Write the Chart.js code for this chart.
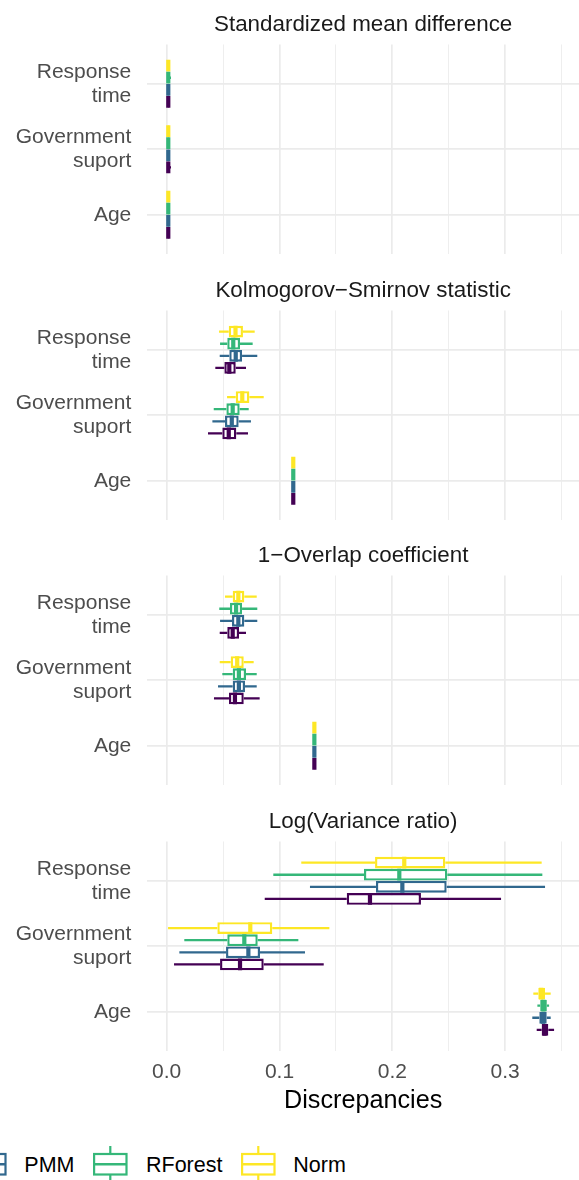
<!DOCTYPE html>
<html><head><meta charset="utf-8">
<script src="https://cdn.jsdelivr.net/npm/chart.js@4/dist/chart.umd.min.js"></script>
<style>
html,body{margin:0;padding:0;background:#fff;}
#wrap{position:relative;width:579px;height:1180px;overflow:hidden;background:#fff;font-family:'Liberation Sans',Arial,sans-serif;}
#wrap canvas{position:absolute;left:0;}
.key{position:absolute;top:1146px;width:36px;height:34px;}
.lab{position:absolute;top:1148px;height:34px;line-height:34px;font-size:21.5px;color:#000;white-space:nowrap;}
</style></head><body><div id="wrap"></div>
<script>
// ---------- data ----------
const facetTitles = ["Standardized mean difference", "Kolmogorov\u2212Smirnov statistic", "1\u2212Overlap coefficient", "Log(Variance ratio)"];
const variableLabels = [["Response", "time"], ["Government", "suport"], "Age"];
const methods = ["CART", "PMM", "RForest", "Norm"];
const methodColors = ["#440154", "#31688E", "#35B779", "#FDE725"];
const xTicks = [0, 0.05, 0.1, 0.15, 0.2, 0.25, 0.3, 0.35];
const xAxisTitle = "Discrepancies";

// per method (CART, PMM, RForest, Norm) -> per variable (Response time, Government suport, Age) -> [min, q1, median, q3, max]
const smdStats = [
  [[0.0004, 0.0009, 0.0014, 0.0019, 0.0028], [0.0004, 0.0009, 0.0014, 0.0019, 0.0038], [0.0004, 0.0009, 0.0014, 0.0019, 0.0026]],
  [[0.0004, 0.0009, 0.0014, 0.0019, 0.0027], [0.0004, 0.0009, 0.0014, 0.0019, 0.0027], [0.0004, 0.0009, 0.0014, 0.0019, 0.0026]],
  [[0.0004, 0.0009, 0.0014, 0.0019, 0.0038], [0.0004, 0.0009, 0.0014, 0.0019, 0.0027], [0.0004, 0.0009, 0.0014, 0.0019, 0.0026]],
  [[0.0004, 0.0009, 0.0014, 0.0019, 0.0027], [0.0004, 0.0009, 0.0014, 0.0019, 0.0027], [0.0004, 0.0009, 0.0014, 0.0019, 0.0026]]
];
const ksStats = [
  [[0.0431, 0.0511, 0.0555, 0.0612, 0.0703], [0.0366, 0.0493, 0.0550, 0.0617, 0.0721], [0.1118, 0.1120, 0.1122, 0.1124, 0.1126]],
  [[0.0470, 0.0555, 0.0612, 0.0668, 0.0803], [0.0405, 0.0517, 0.0577, 0.0638, 0.0747], [0.1118, 0.1120, 0.1122, 0.1124, 0.1126]],
  [[0.0473, 0.0537, 0.0590, 0.0650, 0.0762], [0.0417, 0.0529, 0.0585, 0.0647, 0.0727], [0.1118, 0.1120, 0.1122, 0.1124, 0.1126]],
  [[0.0464, 0.0550, 0.0610, 0.0676, 0.0780], [0.0535, 0.0612, 0.0670, 0.0733, 0.0860], [0.1118, 0.1120, 0.1122, 0.1124, 0.1126]]
];
const overlapStats = [
  [[0.0470, 0.0537, 0.0585, 0.0641, 0.0703], [0.0419, 0.0552, 0.0605, 0.0683, 0.0824], [0.1305, 0.1307, 0.1309, 0.1311, 0.1313]],
  [[0.0473, 0.0579, 0.0635, 0.0688, 0.0803], [0.0455, 0.0585, 0.0640, 0.0694, 0.0798], [0.1305, 0.1307, 0.1309, 0.1311, 0.1313]],
  [[0.0466, 0.0561, 0.0615, 0.0668, 0.0803], [0.0493, 0.0585, 0.0640, 0.0703, 0.0798], [0.1305, 0.1307, 0.1309, 0.1311, 0.1313]],
  [[0.0517, 0.0585, 0.0635, 0.0688, 0.0798], [0.0470, 0.0567, 0.0625, 0.0683, 0.0771], [0.1305, 0.1307, 0.1309, 0.1311, 0.1313]]
];
const logVarStats = [
  [[0.0869, 0.1596, 0.1802, 0.2254, 0.2964], [0.0065, 0.0473, 0.0650, 0.0860, 0.1392], [0.3280, 0.3324, 0.3350, 0.3383, 0.3434]],
  [[0.1270, 0.1855, 0.2089, 0.2482, 0.3354], [0.0112, 0.0526, 0.0724, 0.0827, 0.1226], [0.3241, 0.3303, 0.3335, 0.3369, 0.3404]],
  [[0.0945, 0.1749, 0.2062, 0.2488, 0.3330], [0.0156, 0.0537, 0.0688, 0.0807, 0.1167], [0.3286, 0.3311, 0.3340, 0.3370, 0.3390]],
  [[0.1193, 0.1847, 0.2106, 0.2470, 0.3324], [0.0012, 0.0449, 0.0741, 0.0936, 0.1442], [0.3250, 0.3294, 0.3320, 0.3354, 0.3404]]
];
const facetStats = [smdStats, ksStats, overlapStats, logVarStats];

// ---------- layout ----------
const W = 579;
const TITLE_H = 44.5, PANEL_H = 209, PANEL_STEP = 265.5, BOTTOM_H = 80;
const X_MIN = -0.0172, X_MAX = 0.3655;
const FONT = "'Liberation Sans', Arial, sans-serif";
Chart.defaults.font.family = FONT;

const isMajor = v => Math.abs(v * 10 - Math.round(v * 10)) < 1e-6;

const boxPlugin = {
  id: 'boxWhisker',
  afterDatasetsDraw(chart) {
    const ctx = chart.ctx, xs = chart.scales.x, a = chart.chartArea;
    ctx.save();
    ctx.beginPath(); ctx.rect(a.left, a.top, a.right - a.left, a.bottom - a.top); ctx.clip();
    chart.data.datasets.forEach((ds, di) => {
      const meta = chart.getDatasetMeta(di);
      meta.data.forEach((bar, i) => {
        const s = ds.stats[i];
        const y = bar.y, h = bar.height;
        ctx.strokeStyle = ds.borderColor;
        ctx.lineCap = 'butt';
        ctx.lineWidth = 2.3;
        ctx.beginPath();
        ctx.moveTo(xs.getPixelForValue(s[0]), y); ctx.lineTo(xs.getPixelForValue(s[1]), y);
        ctx.moveTo(xs.getPixelForValue(s[3]), y); ctx.lineTo(xs.getPixelForValue(s[4]), y);
        ctx.stroke();
        const mx = xs.getPixelForValue(s[2]);
        ctx.lineWidth = 4.2;
        ctx.beginPath(); ctx.moveTo(mx, y - h / 2); ctx.lineTo(mx, y + h / 2); ctx.stroke();
      });
    });
    ctx.restore();
  }
};

const wrap = document.getElementById('wrap');
facetTitles.forEach((title, fi) => {
  const last = fi === facetTitles.length - 1;
  const cv = document.createElement('canvas');
  const hgt = TITLE_H + PANEL_H + (last ? BOTTOM_H : 0);
  cv.width = W; cv.height = Math.round(hgt);
  cv.style.width = W + 'px'; cv.style.height = Math.round(hgt) + 'px';
  cv.style.top = Math.round(fi * PANEL_STEP) + 'px';
  wrap.appendChild(cv);
  const stats = facetStats[fi];
  const order = [3, 2, 1, 0]; // top-to-bottom within each category
  const datasets = order.map(mi => ({
    label: methods[mi],
    stats: stats[mi],
    data: stats[mi].map((s, vi) => ({ x: [s[1], s[3]], y: vi + 1 })),
    borderColor: methodColors[mi],
    backgroundColor: '#ffffff',
    borderWidth: 2.4,
    borderSkipped: false,
    xAxisID: 'x', yAxisID: 'y'
  }));
  new Chart(cv, {
    type: 'bar',
    data: { datasets },
    options: {
      responsive: false, animation: false, events: [],
      indexAxis: 'y',
      layout: { padding: 0 },
      categoryPercentage: 0.74, barPercentage: 0.97,
      plugins: { legend: { display: false }, tooltip: { enabled: false }, title: { display: false } },
      scales: {
        x: {
          type: 'linear', position: 'bottom', min: X_MIN, max: X_MAX, offset: false,
          afterBuildTicks: s => { s.ticks = xTicks.map(v => ({ value: v })); },
          ticks: { display: last, autoSkip: false, maxRotation: 0, padding: 9,
            font: { size: 21 }, color: '#4D4D4D',
            callback: v => isMajor(v) ? v.toFixed(1) : '' },
          grid: { color: '#EBEBEB', drawTicks: false, offset: false, lineWidth: c => (c.tick && isMajor(c.tick.value)) ? 1.7 : 0.85 },
          border: { display: false },
          title: { display: last, text: xAxisTitle, color: '#000000', font: { size: 25.2 }, padding: { top: 0, bottom: 15 } },
          afterFit: s => { s.height = last ? BOTTOM_H : 0; s.paddingLeft = 0; s.paddingRight = 0; }
        },
        xTop: {
          type: 'linear', position: 'top', min: X_MIN, max: X_MAX, display: true, offset: false,
          grid: { display: false, drawTicks: false }, border: { display: false },
          ticks: { display: false },
          title: { display: true, text: title, color: '#1A1A1A', font: { size: 22.4 }, padding: { top: 11.5, bottom: 0 } },
          afterFit: s => { s.height = TITLE_H; s.paddingLeft = 0; s.paddingRight = 0; }
        },
        y: {
          type: 'linear', position: 'left', min: 0.4, max: 3.6, reverse: true, offset: false,
          afterBuildTicks: s => { s.ticks = [1, 2, 3].map(v => ({ value: v })); },
          ticks: { autoSkip: false, padding: 16, font: { size: 21, lineHeight: 1.15 }, color: '#4D4D4D',
            callback: v => variableLabels[Math.round(v) - 1] },
          grid: { color: '#EBEBEB', lineWidth: 1.7, drawTicks: false, offset: false },
          border: { display: false },
          afterFit: s => { s.width = 147.3; s.paddingTop = 0; s.paddingBottom = 0; }
        }
      }
    },
    plugins: [boxPlugin]
  });
});

// ---------- legend (HTML, clipped at the left edge like the reference) ----------
const keyLeft = [-150, -27.9, 92.7, 241];
const labLeft = [-97, 24.3, 146, 293.3];
methods.forEach((m, mi) => {
  const c = methodColors[mi];
  const k = document.createElement('div');
  k.className = 'key'; k.style.left = keyLeft[mi] + 'px';
  k.innerHTML = '<svg width="36" height="34" viewBox="0 0 36 34">' +
    '<line x1="17.3" y1="0" x2="17.3" y2="8" stroke="' + c + '" stroke-width="2.2"/>' +
    '<rect x="1.1" y="8" width="32.4" height="20.5" fill="#fff" stroke="' + c + '" stroke-width="2.2"/>' +
    '<line x1="1" y1="18.2" x2="33.6" y2="18.2" stroke="' + c + '" stroke-width="2.6"/>' +
    '<line x1="17.3" y1="28.5" x2="17.3" y2="34" stroke="' + c + '" stroke-width="2.2"/></svg>';
  wrap.appendChild(k);
  const l = document.createElement('div');
  l.className = 'lab'; l.style.left = labLeft[mi] + 'px'; l.textContent = m;
  wrap.appendChild(l);
});
</script></body></html>
